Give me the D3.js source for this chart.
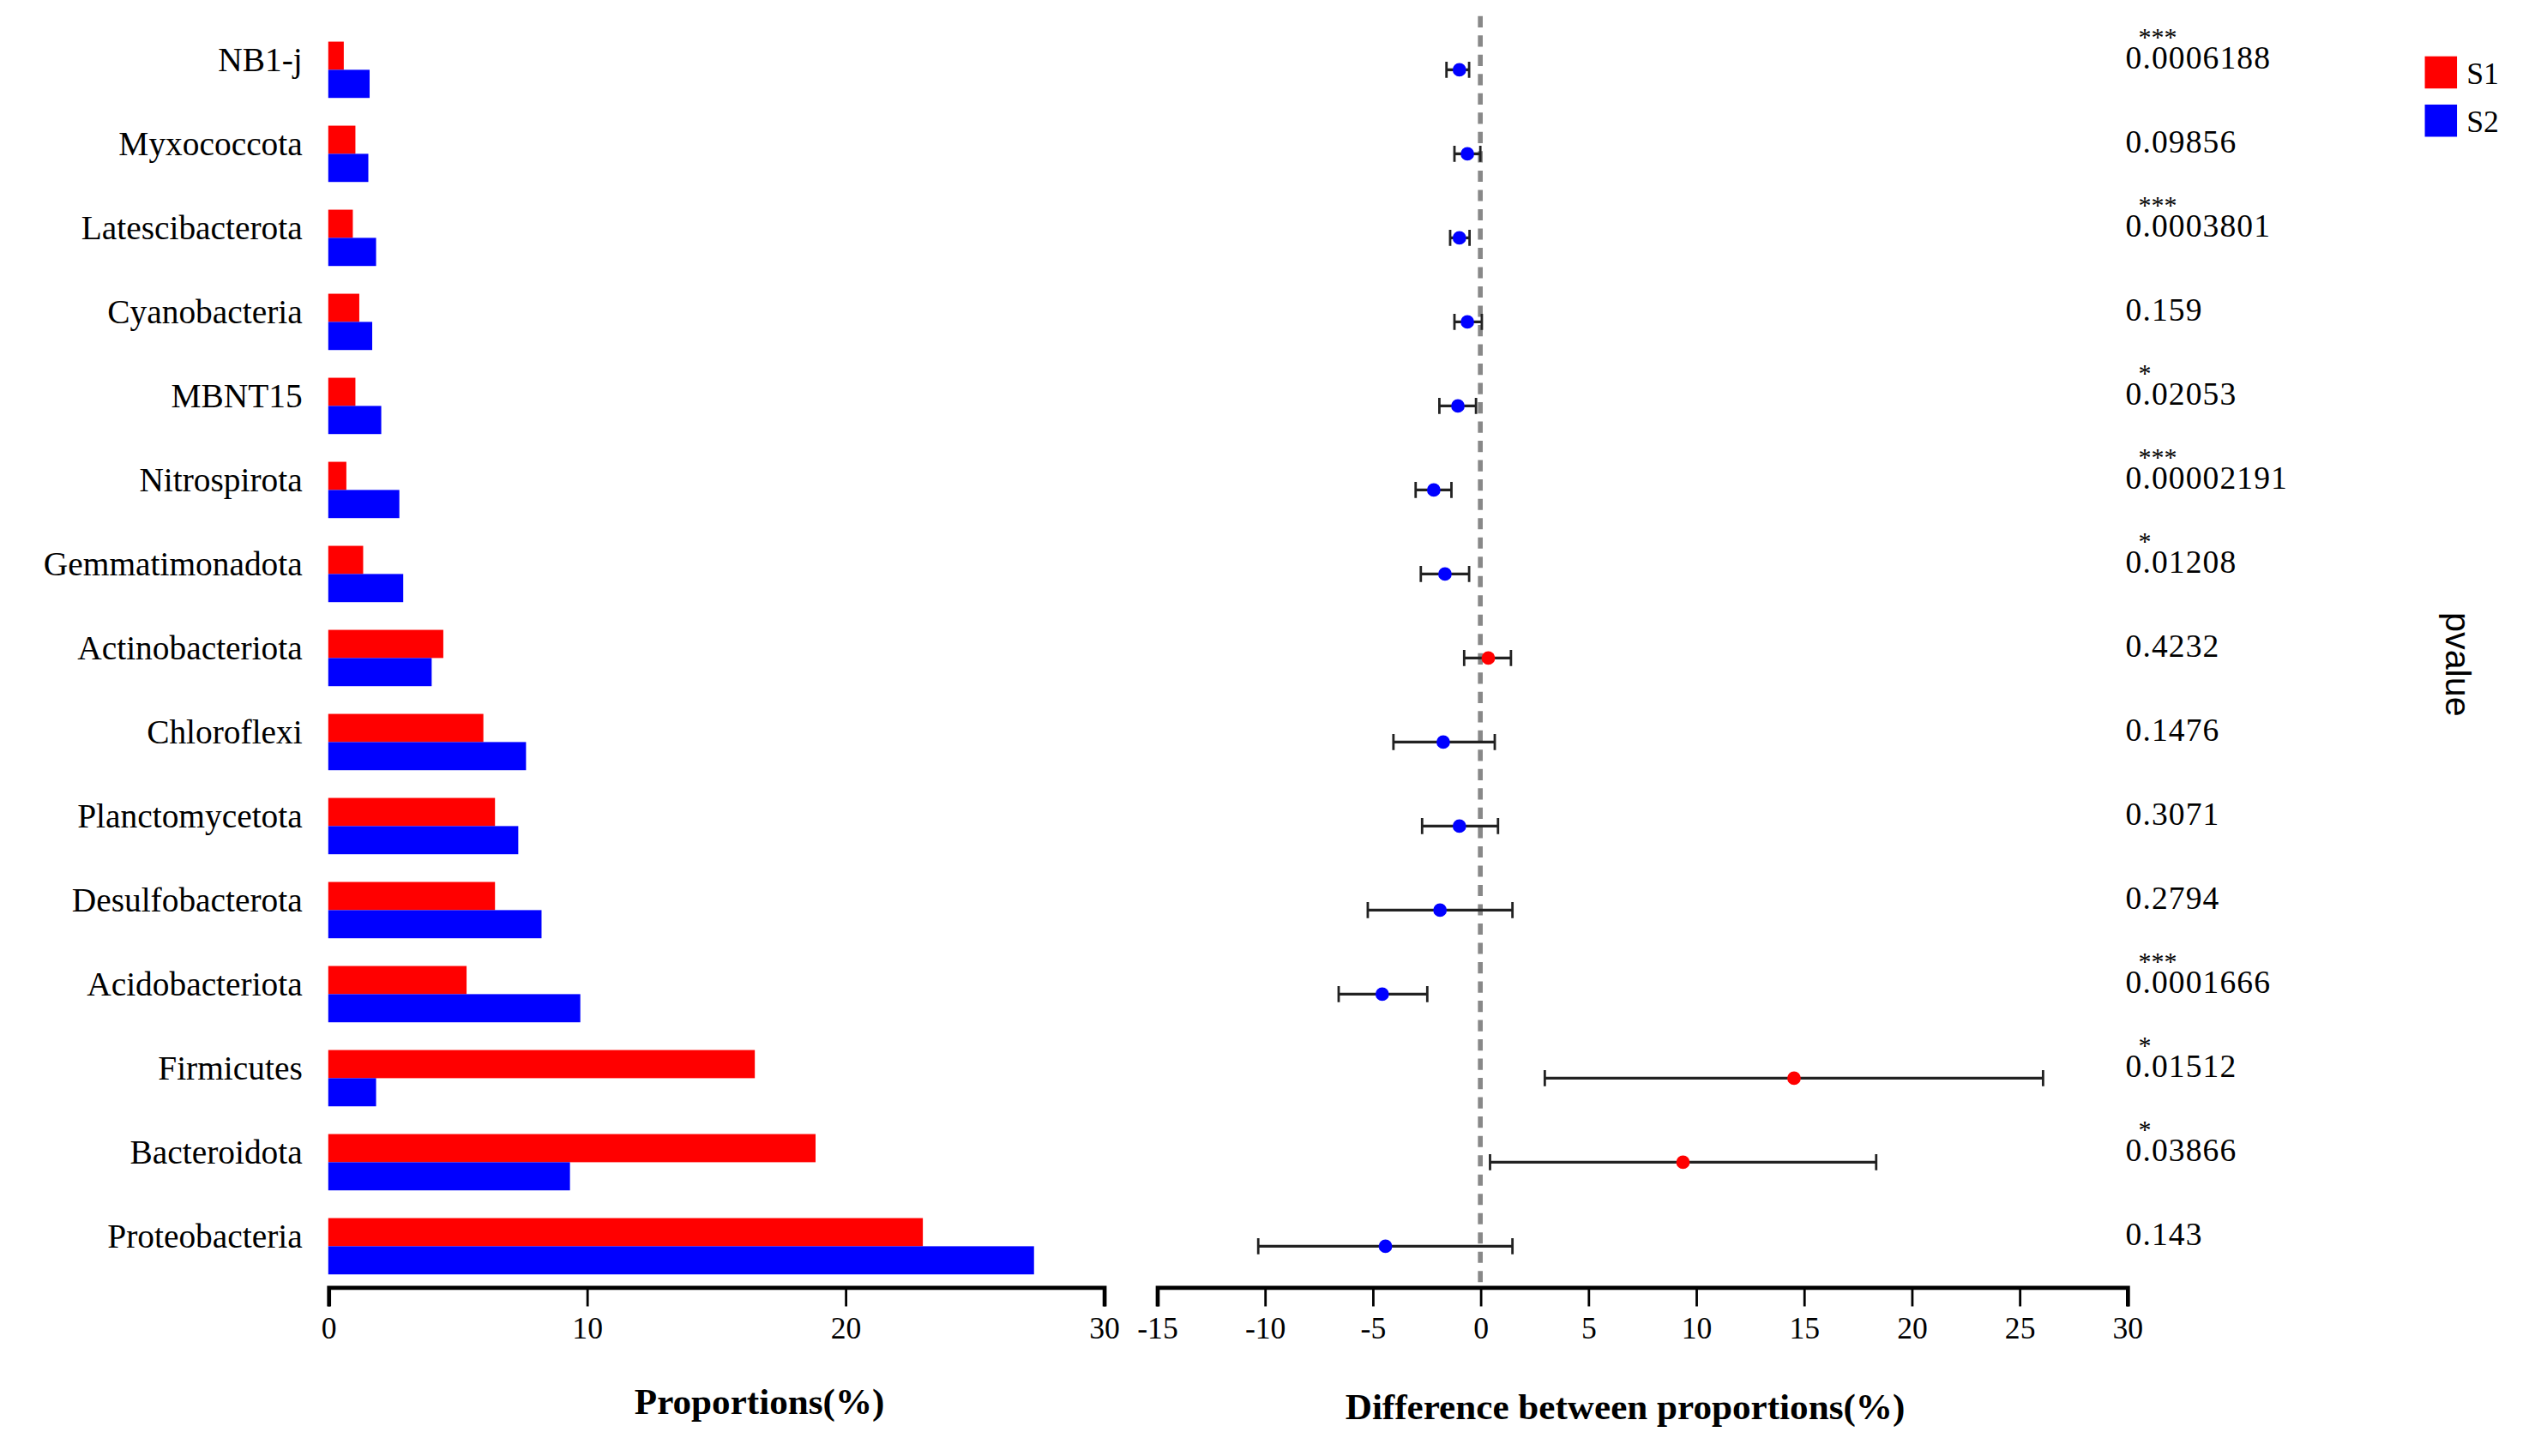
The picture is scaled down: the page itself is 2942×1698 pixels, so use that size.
<!DOCTYPE html>
<html><head><meta charset="utf-8">
<script src="https://cdn.jsdelivr.net/npm/d3@7"></script>
<style>body{margin:0;background:#fff}</style>
</head><body>
<svg id="chart" width="2942" height="1698" viewBox="0 0 1568 905"></svg>
<script>
var categories = ["NB1-j","Myxococcota","Latescibacterota","Cyanobacteria","MBNT15","Nitrospirota",
  "Gemmatimonadota","Actinobacteriota","Chloroflexi","Planctomycetota","Desulfobacterota",
  "Acidobacteriota","Firmicutes","Bacteroidota","Proteobacteria"];
var s1Values = [0.6,1.05,0.95,1.2,1.05,0.7,1.35,4.45,6.0,6.45,6.45,5.35,16.5,18.85,23.0];
var s2Values = [1.6,1.55,1.85,1.7,2.05,2.75,2.9,4.0,7.65,7.35,8.25,9.75,1.85,9.35,27.3];
var diffValues = [-0.97,-0.6,-0.97,-0.6,-1.04,-2.16,-1.64,0.37,-1.72,-0.97,-1.87,-4.55,14.55,9.4,-4.4];
var ciLow = [-1.57,-1.2,-1.4,-1.2,-1.9,-3.0,-2.76,-0.75,-4.03,-2.7,-5.22,-6.57,2.99,0.45,-10.3];
var ciHigh = [-0.52,0,-0.5,0.07,-0.2,-1.34,-0.52,1.42,0.67,0.82,1.49,-2.46,26.1,18.36,1.49];
var pLabels = ["0.0006188","0.09856","0.0003801","0.159","0.02053","0.00002191","0.01208","0.4232",
  "0.1476","0.3071","0.2794","0.0001666","0.01512","0.03866","0.143"];
var stars = ["***","","***","","*","***","*","","","","","***","*","*",""];
var leftTicks = [0,10,20,30];
var rightTicks = [-15,-10,-5,0,5,10,15,20,25,30];
var colors = {S1:"#ff0000", S2:"#0000ff"};

var svg = d3.select("#chart");
var serif = "'Liberation Serif','Times New Roman',serif";

var y = d3.scaleBand().domain(categories).range([17, 801]).paddingInner(0.33).paddingOuter(0.17);
var xL = d3.scaleLinear().domain([0,30]).range([204,686]);
var xR = d3.scaleLinear().domain([-15,30]).range([719,1322]);
var axisY = 800;

// bars
var bars = svg.append("g");
var bw = y.bandwidth()/2;
bars.selectAll("rect.s1").data(categories).enter().append("rect")
  .attr("x", xL(0)).attr("y", function(d){return y(d);})
  .attr("width", function(d,i){return xL(s1Values[i])-xL(0);})
  .attr("height", bw).attr("fill", colors.S1);
bars.selectAll("rect.s2").data(categories).enter().append("rect")
  .attr("x", xL(0)).attr("y", function(d){return y(d)+bw;})
  .attr("width", function(d,i){return xL(s2Values[i])-xL(0);})
  .attr("height", bw).attr("fill", colors.S2);

// category labels
svg.append("g").selectAll("text").data(categories).enter().append("text")
  .attr("x", 188).attr("y", function(d){return y(d)+bw;})
  .attr("dy", "0.05em").attr("text-anchor","end")
  .attr("font-family", serif).attr("font-size", 21).text(function(d){return d;});

// axes
function styleAxis(g){
  g.select(".domain").attr("stroke","#000").attr("stroke-width",2.5);
  g.selectAll(".tick line").attr("stroke","#000").attr("stroke-width",1.5);
  g.selectAll(".tick text").attr("font-family",serif).attr("font-size",19).attr("fill","#000").attr("dy","0.9em");
}
var fmt = function(d){ return String(d); };
svg.append("g").attr("transform","translate(0,"+axisY+")")
  .call(d3.axisBottom(xL).tickValues(leftTicks).tickFormat(fmt).tickSizeOuter(0).tickSize(12)).call(styleAxis);
svg.append("g").attr("transform","translate(0,"+axisY+")")
  .call(d3.axisBottom(xR).tickValues(rightTicks).tickFormat(fmt).tickSizeOuter(0).tickSize(12)).call(styleAxis);

// zero dashed line
svg.append("line").attr("x1",xR(0)).attr("x2",xR(0)).attr("y1",10).attr("y2",axisY)
  .attr("stroke","#888").attr("stroke-width",3).attr("stroke-dasharray","7,5");

// error bars
var eb = svg.append("g");
categories.forEach(function(c,i){
  var cy = y(c)+bw;
  eb.append("line").attr("x1",xR(ciLow[i])).attr("x2",xR(ciHigh[i])).attr("y1",cy).attr("y2",cy)
    .attr("stroke","#222").attr("stroke-width",1.8);
  [ciLow[i],ciHigh[i]].forEach(function(v){
    eb.append("line").attr("x1",xR(v)).attr("x2",xR(v)).attr("y1",cy-5).attr("y2",cy+5)
      .attr("stroke","#222").attr("stroke-width",1.5);
  });
  eb.append("circle").attr("cx",xR(diffValues[i])).attr("cy",cy).attr("r",4.2)
    .attr("fill", diffValues[i] > 0 ? colors.S1 : colors.S2);
});

// p values
var pg = svg.append("g");
categories.forEach(function(c,i){
  var cy = y(c)+bw;
  pg.append("text").attr("x",1321).attr("y",cy-1).attr("font-family",serif).attr("font-size",20)
    .attr("letter-spacing",0.6).text(pLabels[i]);
  if (stars[i]) pg.append("text").attr("x",1329).attr("y",cy-15).attr("font-family",serif)
    .attr("font-size",16).text(stars[i]);
});

// axis titles
svg.append("text").attr("x",472).attr("y",879).attr("text-anchor","middle").attr("font-family",serif)
  .attr("font-weight","bold").attr("font-size",23).text("Proportions(%)");
svg.append("text").attr("x",1010).attr("y",882).attr("text-anchor","middle").attr("font-family",serif)
  .attr("font-weight","bold").attr("font-size",23).text("Difference between proportions(%)");
svg.append("text").attr("transform","translate(1520,413) rotate(90)").attr("text-anchor","middle")
  .attr("font-family","'Liberation Sans',Arial,sans-serif").attr("font-size",22).text("pvalue");

// legend
var leg = svg.append("g");
["S1","S2"].forEach(function(k,i){
  leg.append("rect").attr("x",1507).attr("y",35+i*30).attr("width",20).attr("height",20).attr("fill",colors[k]);
  leg.append("text").attr("x",1533).attr("y",52+i*30).attr("font-family",serif).attr("font-size",19).text(k);
});
</script>
</body></html>
